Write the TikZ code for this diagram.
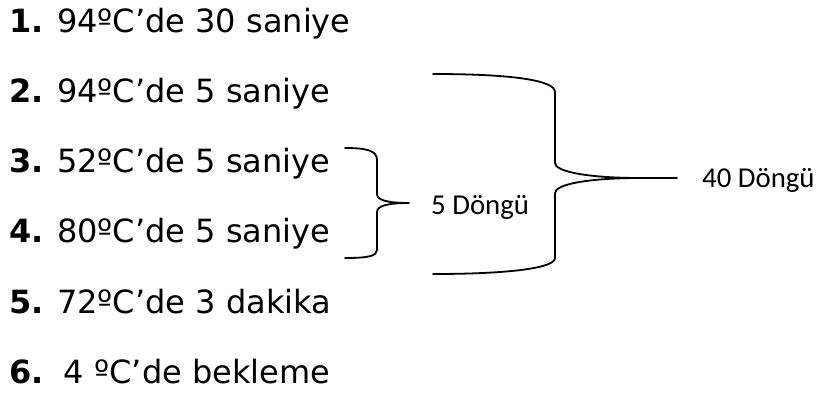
\documentclass[tikz,border=0pt]{standalone}
\usepackage{fontspec}
\setmainfont{DejaVu Sans}
\newfontfamily\labelfont{Carlito}

\begin{document}
\begin{tikzpicture}[x=1pt,y=-1pt,
  stepline/.style={anchor=base west, inner sep=0pt,
    font=\fontsize{32}{36}\selectfont},
  cyclelabel/.style={anchor=base west, inner sep=0pt,
    font=\labelfont\fontsize{28.8}{32}\selectfont},
  braceline/.style={line width=1.8pt, line join=round, line cap=round}]
\useasboundingbox (0,0) rectangle (816,394);

% PCR programme steps
\node[stepline] (s1) at (9,32)  {\textbf{1.} 94ºC’de 30 saniye};
\node[stepline] (s2) at (9,102) {\textbf{2.} 94ºC’de 5 saniye};
\node[stepline] (s3) at (9,172) {\textbf{3.} 52ºC’de 5 saniye};
\node[stepline] (s4) at (9,242) {\textbf{4.} 80ºC’de 5 saniye};
\node[stepline] (s5) at (9,313) {\textbf{5.} 72ºC’de 3 dakika};
\node[stepline] (s6) at (9,383) {\textbf{6.}\ \ 4 ºC’de bekleme};

% cycle labels
\node[cyclelabel] (c5)  at (431,214) {5 Döngü};
\node[cyclelabel] (c40) at (702,187) {40 Döngü};

% inner brace: steps 3-4
\coordinate (t5) at (409,203);
\draw[braceline] (345,148) .. controls (368,148) and (377,151) .. (377,160)
  -- (377,194) .. controls (377,200) and (387,203) .. (t5)
  .. controls (387,203) and (377,206) .. (377,212)
  -- (377,250) .. controls (377,256) and (368,258) .. (345,258);

% outer brace: steps 2-4
\coordinate (t40) at (677,178);
\draw[braceline] (433,74) .. controls (510,74) and (555,80) .. (555,92)
  -- (555,163) .. controls (555,172) and (590,178) .. (640,178) -- (t40);
\draw[braceline] (640,178) .. controls (590,178) and (555,184) .. (555,193)
  -- (555,258) .. controls (555,268) and (510,274) .. (433,274);
\end{tikzpicture}
\end{document}
